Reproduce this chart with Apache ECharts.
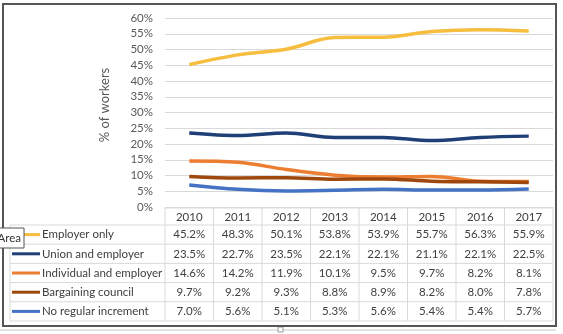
<!DOCTYPE html>
<html>
<head>
<meta charset="utf-8">
<script src="https://cdn.jsdelivr.net/npm/echarts@6/dist/echarts.min.js"></script>
<style>
html,body{margin:0;padding:0;background:#fff;}
#c{width:563px;height:334px;}
</style>
</head>
<body>
<div id="c"></div>
<script>
const categories = ['2010','2011','2012','2013','2014','2015','2016','2017'];
const seriesNames = ['Employer only','Union and employer','Individual and employer','Bargaining council','No regular increment'];
const employerOnly = [45.2,48.3,50.1,53.8,53.9,55.7,56.3,55.9];
const unionEmployer = [23.5,22.7,23.5,22.1,22.1,21.1,22.1,22.5];
const individualEmployer = [14.6,14.2,11.9,10.1,9.5,9.7,8.2,8.1];
const bargainingCouncil = [9.7,9.2,9.3,8.8,8.9,8.2,8.0,7.8];
const noRegularIncrement = [7.0,5.6,5.1,5.3,5.6,5.4,5.4,5.7];
const yTicks = [0,5,10,15,20,25,30,35,40,45,50,55,60];
const yTitle = '% of workers';

const seriesData = [employerOnly, unionEmployer, individualEmployer, bargainingCouncil, noRegularIncrement];
const colors = ['#F6BD3F','#1F3F77','#ED7D31','#9E480E','#4472C4'];
const FONT = 'Lato';
const TXT = '#404040';
const FS = '11.5px ';

const chart = echarts.init(document.getElementById('c'));
const grid = {left:165, right:10, top:18, bottom:127};
chart.setOption({
  animation:false,
  textStyle:{fontFamily:FONT},
  grid: grid,
  xAxis:{type:'category', data:categories, boundaryGap:true,
    axisLabel:{show:false}, axisTick:{show:false},
    axisLine:{show:true, lineStyle:{color:'#d9d9d9'}}},
  yAxis:{type:'value', min:yTicks[0], max:yTicks[yTicks.length-1], interval:5,
    axisLabel:{formatter:'{value}%', color:'#595959', fontSize:11.5, fontFamily:FONT, margin:12},
    splitLine:{lineStyle:{color:'#d9d9d9', width:1}},
    axisLine:{show:false}, axisTick:{show:false}},
  series: seriesNames.map((n,i)=>({
    name:n, type:'line', data:seriesData[i], smooth:0.35, showSymbol:false,
    lineStyle:{color:colors[i], width:3.5}, itemStyle:{color:colors[i]}
  }))
});

function buildTable(){
  const n = categories.length;
  const W = 563;
  const plotL = grid.left, plotR = W - grid.right;
  const colW = (plotR - plotL) / n;
  const top = chart.convertToPixel({yAxisIndex:0}, 0) + 1;
  const headerH = 17, rowH = 19.2;
  const legL = 10;
  const els = [];
  const line = (x1,y1,x2,y2,c,w)=>els.push({type:'line', shape:{x1,y1,x2,y2}, style:{stroke:c||'#d9d9d9', lineWidth:w||1}, silent:true});
  const bottom = top + headerH + rowH*seriesNames.length;
  line(plotL, top, plotR, top);
  line(legL, top+headerH, plotR, top+headerH);
  for(let r=1;r<=seriesNames.length;r++) line(legL, top+headerH+rowH*r, plotR, top+headerH+rowH*r);
  for(let c=0;c<=n;c++){
    const x = plotL + colW*c;
    line(x, top, x, bottom);
  }
  line(legL, top+headerH, legL, bottom);
  categories.forEach((cat,c)=>{
    const x = chart.convertToPixel({xAxisIndex:0}, cat);
    els.push({type:'text', style:{text:cat, x:x, y:top+headerH/2+1, align:'center', verticalAlign:'middle', fill:TXT, font:FS+FONT}, silent:true});
  });
  seriesNames.forEach((name,r)=>{
    const cy = top + headerH + rowH*r + rowH/2;
    line(legL+2, cy, legL+30, cy, colors[r], 3);
    els.push({type:'text', style:{text:name, x:legL+32, y:cy, align:'left', verticalAlign:'middle', fill:TXT, font:FS+FONT}, silent:true});
    seriesData[r].forEach((v,c)=>{
      const x = chart.convertToPixel({xAxisIndex:0}, categories[c]);
      els.push({type:'text', style:{text:v.toFixed(1)+'%', x:x, y:cy, align:'center', verticalAlign:'middle', fill:TXT, font:FS+FONT}, silent:true});
    });
  });
  // axis title
  els.push({type:'text', x:105, y:105, rotation:Math.PI/2, style:{text:yTitle, x:0, y:0, align:'center', verticalAlign:'middle', fill:'#595959', font:'13px '+FONT}, silent:true});
  // outer frame
  els.push({type:'rect', shape:{x:3, y:4, width:553, height:322}, style:{fill:null, stroke:'#555555', lineWidth:2}, silent:true, z:10});
  // selection line below
  line(0, 330, 556, 330, '#c8c8c8', 1);
  els.push({type:'rect', shape:{x:278, y:327, width:5, height:5}, style:{fill:'#fff', stroke:'#999', lineWidth:1}, silent:true});
  // tooltip "Area"
  els.push({type:'rect', shape:{x:-2, y:228, width:26, height:20}, style:{fill:'#fff', stroke:'#555', lineWidth:1}, silent:true, z:20});
  els.push({type:'text', style:{text:'Area', x:21, y:238, align:'right', verticalAlign:'middle', fill:'#333', font:FS+FONT}, silent:true, z:21});
  chart.setOption({graphic:{elements:els}});
}
buildTable();
</script>
</body>
</html>
